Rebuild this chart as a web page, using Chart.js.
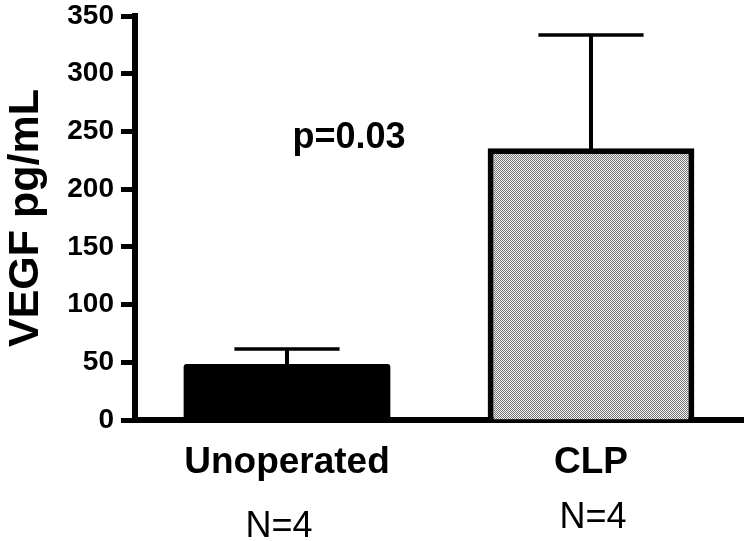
<!DOCTYPE html>
<html>
<head>
<meta charset="utf-8">
<script src="https://cdn.jsdelivr.net/npm/chart.js@4/dist/chart.umd.min.js"></script>
<style>
  html, body { margin: 0; padding: 0; background: #fff; }
  #wrap { width: 750px; height: 541px; position: relative; }
</style>
</head>
<body>
<div id="wrap"><canvas id="c" width="750" height="541"></canvas></div>
<script>
// ---- data ----
const categories = ["Unoperated", "CLP"];
const meanValues = [48.5, 235.5];
const errorTops = [61.5, 333.5];
const sampleSizes = ["N=4", "N=4"];
const yTicks = [0, 50, 100, 150, 200, 250, 300, 350];
const pValueText = "p=0.03";
const yTitle = "VEGF pg/mL";

// ---- style ----
const FONT = "Arial, 'Liberation Sans', Helvetica, sans-serif";
const nLabelDx = [-8, 2];
const nLabelDy = [117, 108];

// dotted gray fill pattern
function makePattern() {
  const p = document.createElement('canvas');
  p.width = 2; p.height = 2;
  const g = p.getContext('2d');
  g.fillStyle = '#f2f2f2'; g.fillRect(0, 0, 2, 2);
  g.fillStyle = '#777777'; g.fillRect(0, 0, 1, 1); g.fillRect(1, 1, 1, 1);
  return g.createPattern(p, 'repeat');
}
const ctx0 = document.getElementById('c').getContext('2d');
const pattern = makePattern();

const errorBarPlugin = {
  id: 'errorBars',
  beforeDatasetsDraw(chart) {
    const ctx = chart.ctx;
    const x = chart.scales.x, y = chart.scales.y;
    ctx.save();
    ctx.strokeStyle = '#000';
    categories.forEach((c, i) => {
      const cx = x.getPixelForValue(i);
      const yTop = y.getPixelForValue(errorTops[i]);
      const yMean = y.getPixelForValue(meanValues[i]);
      const half = x.width / categories.length * 0.173;
      ctx.lineWidth = 4;
      ctx.beginPath(); ctx.moveTo(cx, yMean + 2); ctx.lineTo(cx, yTop); ctx.stroke();
      ctx.lineWidth = 3.5;
      ctx.beginPath(); ctx.moveTo(cx - half, yTop); ctx.lineTo(cx + half, yTop); ctx.stroke();
    });
    ctx.restore();
  }
};

const textPlugin = {
  id: 'texts',
  afterDraw(chart) {
    const ctx = chart.ctx;
    const x = chart.scales.x;
    const area = chart.chartArea;
    ctx.save();
    ctx.fillStyle = '#000';
    ctx.textAlign = 'center';
    ctx.textBaseline = 'alphabetic';
    ctx.font = "36px " + FONT;
    sampleSizes.forEach((s, i) => {
      ctx.fillText(s, x.getPixelForValue(i) + nLabelDx[i], area.bottom + nLabelDy[i]);
    });
    ctx.font = "bold 36px " + FONT;
    ctx.fillText(pValueText, area.left + (area.right - area.left) * 0.352, 148);
    ctx.restore();
  }
};

new Chart(ctx0, {
  type: 'bar',
  data: {
    labels: categories,
    datasets: [{
      data: meanValues,
      backgroundColor: ['#000000', pattern],
      borderColor: '#000000',
      borderWidth: [0, 6],
      borderSkipped: 'bottom',
      borderRadius: [3, 0],
      barPercentage: 0.68,
      categoryPercentage: 1.0
    }]
  },
  options: {
    responsive: false,
    animation: false,
    devicePixelRatio: 1,
    layout: { padding: { top: 16, left: 0, right: 7, bottom: 0 } },
    plugins: { legend: { display: false }, tooltip: { enabled: false } },
    scales: {
      x: {
        type: 'category',
        offset: true,
        grid: { display: false },
        border: { display: true, color: '#000', width: 6 },
        ticks: { color: '#000', font: { family: FONT, size: 37, weight: 'bold' }, padding: 13, maxRotation: 0 },
        afterFit(s) { s.height = 121; s.paddingLeft = 0; s.paddingRight = 0; }
      },
      y: {
        min: 0, max: 350,
        afterBuildTicks(s) { s.ticks = yTicks.map(v => ({ value: v })); },
        grid: { display: true, drawOnChartArea: false, drawTicks: true, tickLength: 14, tickWidth: 5, tickColor: '#000', color: '#000' },
        border: { display: true, color: '#000', width: 6 },
        ticks: { color: '#000', font: { family: FONT, size: 28, weight: 'bold', lineHeight: 1 }, padding: 7 },
        title: { display: true, text: yTitle, color: '#000', font: { family: FONT, size: 43, weight: 'bold' }, padding: { top: 0, bottom: 0 } },
        afterFit(s) { s.width = 135; s.paddingTop = 0; s.paddingBottom = 0; }
      }
    }
  },
  plugins: [errorBarPlugin, textPlugin]
});
</script>
</body>
</html>
